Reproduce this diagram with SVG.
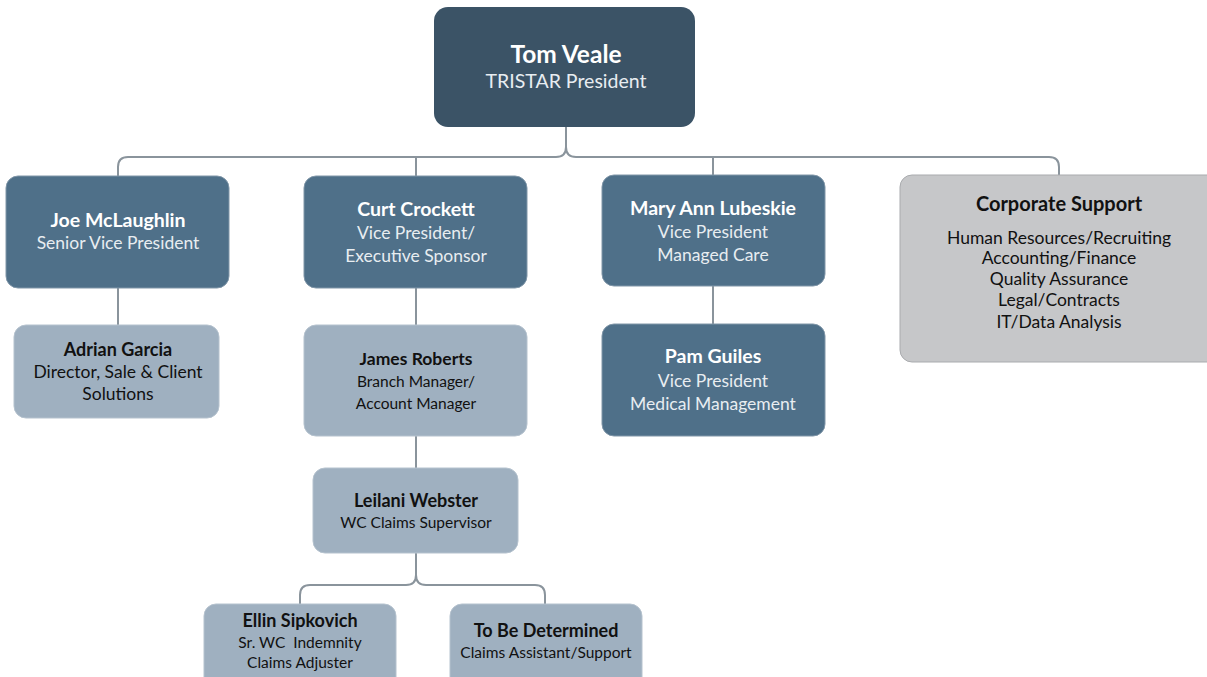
<svg xmlns="http://www.w3.org/2000/svg" width="1207" height="677" viewBox="0 0 1207 677">
<style>
.dark{fill:#3b5366}
.mid{fill:#4f7089;stroke:#8096a8;stroke-width:1}
.light{fill:#9fb0c0;stroke:#b5c2ce;stroke-width:1}
.grey{fill:#c6c7c9;stroke:#a9abae;stroke-width:1}
text{font-family:Lato,"Open Sans","Liberation Sans",sans-serif;text-anchor:middle}
.w{fill:#ffffff}
.wl{fill:#e8edf1}
.k{fill:#111111}
.b{font-weight:bold}
.conn{fill:none;stroke:#8a949c;stroke-width:2}
</style>
<rect width="1207" height="677" fill="#ffffff"/>
<g id="connectors">
<path class="conn" d="M566,127 V147 Q566,157 556,157 H128 Q118,157 118,167 V176"/>
<path class="conn" d="M566,147 Q566,157 576,157 H1049 Q1059,157 1059,167 V175"/>
<path class="conn" d="M416,157 V176"/>
<path class="conn" d="M713,157 V175"/>
<path class="conn" d="M118,288 V325"/>
<path class="conn" d="M416,288 V325"/>
<path class="conn" d="M713,286 V324"/>
<path class="conn" d="M416,436 V468"/>
<path class="conn" d="M416,553 V575 Q416,585 406,585 H310 Q300,585 300,595 V604"/>
<path class="conn" d="M416,575 Q416,585 426,585 H535 Q545,585 545,595 V604"/>
</g>
<g id="tom">
<rect class="dark" x="434" y="7" width="261" height="120" rx="14"/>
<text x="566" y="63" class="w b" font-size="24.5">Tom Veale</text>
<text x="566" y="88" class="wl" font-size="19.5">TRISTAR President</text>
</g>
<g id="joe">
<rect class="mid" x="6" y="176" width="223" height="112" rx="12"/>
<text x="118" y="227" class="w b" font-size="19.5">Joe McLaughlin</text>
<text x="118" y="249" class="wl" font-size="17.5">Senior Vice President</text>
</g>
<g id="adrian">
<rect class="light" x="14" y="325" width="205" height="93" rx="12"/>
<text x="118" y="356" class="k b" font-size="18">Adrian Garcia</text>
<text x="118" y="378" class="k" font-size="17.5">Director, Sale &amp; Client</text>
<text x="118" y="400" class="k" font-size="17.5">Solutions</text>
</g>
<g id="curt">
<rect class="mid" x="304" y="176" width="223" height="112" rx="12"/>
<text x="416" y="216" class="w b" font-size="19.5">Curt Crockett</text>
<text x="416" y="239" class="wl" font-size="17.5">Vice President/</text>
<text x="416" y="262" class="wl" font-size="17.5">Executive Sponsor</text>
</g>
<g id="james">
<rect class="light" x="304" y="325" width="223" height="111" rx="12"/>
<text x="416" y="365" class="k b" font-size="17.5">James Roberts</text>
<text x="416" y="387" class="k" font-size="15.5">Branch Manager/</text>
<text x="416" y="409" class="k" font-size="15.5">Account Manager</text>
</g>
<g id="leilani">
<rect class="light" x="313" y="468" width="205" height="85" rx="12"/>
<text x="416" y="507" class="k b" font-size="18">Leilani Webster</text>
<text x="416" y="528" class="k" font-size="15.5">WC Claims Supervisor</text>
</g>
<g id="ellin">
<rect class="light" x="204" y="604" width="192" height="85" rx="12"/>
<text x="300" y="627" class="k b" font-size="18">Ellin Sipkovich</text>
<text x="300" y="648" class="k" font-size="15.5" xml:space="preserve">Sr. WC  Indemnity</text>
<text x="300" y="668" class="k" font-size="15.5">Claims Adjuster</text>
</g>
<g id="tbd">
<rect class="light" x="450" y="604" width="192" height="85" rx="12"/>
<text x="546" y="637" class="k b" font-size="18">To Be Determined</text>
<text x="546" y="658" class="k" font-size="15.5">Claims Assistant/Support</text>
</g>
<g id="mary">
<rect class="mid" x="602" y="175" width="223" height="111" rx="12"/>
<text x="713" y="215" class="w b" font-size="19.5">Mary Ann Lubeskie</text>
<text x="713" y="238" class="wl" font-size="17.5">Vice President</text>
<text x="713" y="261" class="wl" font-size="17.5">Managed Care</text>
</g>
<g id="pam">
<rect class="mid" x="602" y="324" width="223" height="112" rx="12"/>
<text x="713" y="363" class="w b" font-size="19.5">Pam Guiles</text>
<text x="713" y="387" class="wl" font-size="17.5">Vice President</text>
<text x="713" y="410" class="wl" font-size="17.5">Medical Management</text>
</g>
<g id="corporate">
<rect class="grey" x="900" y="175" width="320" height="187" rx="12"/>
<text x="1059" y="211" class="k b" font-size="20">Corporate Support</text>
<text x="1059" y="244" class="k" font-size="17.5">Human Resources/Recruiting</text>
<text x="1059" y="264" class="k" font-size="17.5">Accounting/Finance</text>
<text x="1059" y="285" class="k" font-size="17.5">Quality Assurance</text>
<text x="1059" y="306" class="k" font-size="17.5">Legal/Contracts</text>
<text x="1059" y="328" class="k" font-size="17.5">IT/Data Analysis</text>
</g>
</svg>
